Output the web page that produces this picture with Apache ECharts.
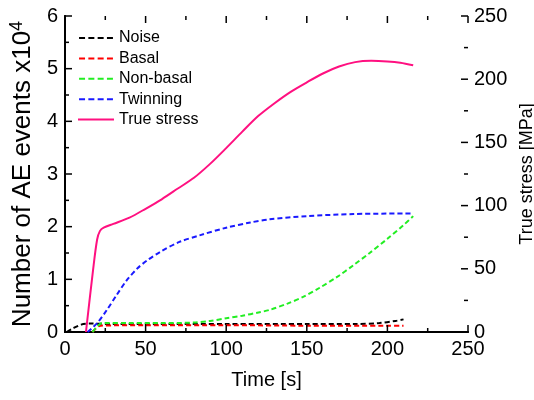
<!DOCTYPE html>
<html><head><meta charset="utf-8">
<script src="https://cdn.jsdelivr.net/npm/echarts@6/dist/echarts.min.js"></script>
<style>html,body{margin:0;padding:0;background:#fff}#c{width:534px;height:400px}</style>
</head><body><div id="c"></div>
<script>
// Data
const noiseT  = [1, 5, 10, 15, 30, 60, 100, 150, 180, 195, 205, 210];
const noiseV  = [0, 0.07, 0.14, 0.16, 0.15, 0.15, 0.15, 0.15, 0.15, 0.17, 0.21, 0.24];
const basalT  = [17, 22, 50, 100, 150, 200, 210];
const basalV  = [0, 0.12, 0.13, 0.13, 0.12, 0.12, 0.12];
const nonbT   = [17, 20, 23, 40, 60, 80, 90, 100, 110, 120, 127, 138, 148, 158, 169, 179, 189, 200, 210, 216];
const nonbV   = [0, 0.1, 0.17, 0.17, 0.17, 0.18, 0.21, 0.26, 0.31, 0.37, 0.42, 0.54, 0.67, 0.84, 1.05, 1.27, 1.5, 1.77, 2.03, 2.2];
const twinT   = [14, 20, 26, 32, 38, 45, 51, 59, 71, 84, 100, 115, 127, 150, 179, 216];
const twinV   = [0, 0.17, 0.42, 0.7, 0.97, 1.21, 1.36, 1.52, 1.71, 1.84, 1.98, 2.08, 2.14, 2.2, 2.24, 2.25];
const stressT = [13, 17.4, 19.9, 21.7, 24, 30, 40, 50, 60, 70, 80, 90, 100, 110, 120, 130, 140, 150, 160, 170, 180, 190, 200, 208, 216];
const stressV = [0, 49, 73, 80, 82.5, 85.5, 90.5, 97.5, 105, 113.5, 122, 133, 145.5, 158.5, 171, 181, 190, 197.5, 204.5, 210, 213.5, 214.5, 214, 213, 211];
const legendNames = ['Noise', 'Basal', 'Non-basal', 'Twinning', 'True stress'];
// tick positions (major + minor) on each scale
const xTicks      = [0, 25, 50, 75, 100, 125, 150, 175, 200, 225, 250];
const yLeftTicks  = [0, 0.5, 1, 1.5, 2, 2.5, 3, 3.5, 4, 4.5, 5, 5.5, 6];
const yRightTicks = [0, 25, 50, 75, 100, 125, 150, 175, 200, 225, 250];

const pair = (t, v) => t.map((x, i) => [x, v[i]]);
const FONT = 'Liberation Sans';
const dash = [5, 3];
const dashIcon = 'path://M0,0h6v2h-6zM9.3,0h6v2h-6zM18.6,0h6v2h-6zM27.9,0h6v2h-6z';
const solidIcon = 'path://M0,0h36v2h-36z';

const axisLine = () => ({show: true, lineStyle: {color: '#000', width: 2}});
const label = (m) => ({show: true, margin: m, color: '#000', fontFamily: FONT, fontSize: 20});
const noTicks = {axisTick: {show: false}, minorTick: {show: false}, splitLine: {show: false}, minorSplitLine: {show: false}};

// inward tick marks, placed through the axes' own scales
function tickSeries(points, isMajor, dir, yAxisIndex) {
  return {
    type: 'custom', silent: true, clip: false, z: 5, yAxisIndex: yAxisIndex,
    data: points, encode: {x: 0, y: 1},
    renderItem: function (params, api) {
      const p = api.coord([api.value(0), api.value(1)]);
      const L = isMajor(params.dataIndex) ? 7 : 4;
      return {type: 'line',
              shape: {x1: p[0], y1: p[1], x2: p[0] + dir[0] * L, y2: p[1] + dir[1] * L},
              style: {stroke: '#000', lineWidth: 1.5}};
    }
  };
}
const evenIdx = i => i % 2 === 0;

const chart = echarts.init(document.getElementById('c'), null, {renderer: 'canvas'});
const colors = ['#000000', '#ff0000', '#22ee22', '#1a1aff', '#ff1080'];

const lineSeries = [
  {name: 'Noise', data: pair(noiseT, noiseV), dashed: true},
  {name: 'Basal', data: pair(basalT, basalV), dashed: true},
  {name: 'Non-basal', data: pair(nonbT, nonbV), dashed: true},
  {name: 'Twinning', data: pair(twinT, twinV), dashed: true},
  {name: 'True stress', data: pair(stressT, stressV), dashed: false, yAxisIndex: 1}
].map((s, i) => ({
  name: s.name, type: 'line', data: s.data, yAxisIndex: s.yAxisIndex || 0,
  showSymbol: false, symbol: 'none', smooth: 0.3,
  lineStyle: {color: colors[i], width: 2, type: s.dashed ? dash : 'solid'},
  itemStyle: {color: colors[i]}
}));

chart.setOption({
  animation: false,
  backgroundColor: '#fff',
  grid: {left: 65, right: 66, top: 16, bottom: 68, containLabel: false, outerBoundsMode: 'none'},
  legend: {
    orient: 'vertical', left: 73, top: 25, itemWidth: 36, itemHeight: 2, itemGap: 4.4,
    textStyle: {color: '#000', fontFamily: FONT, fontSize: 16, lineHeight: 16},
    data: legendNames.map((n, i) => ({name: n, icon: i === 4 ? solidIcon : dashIcon}))
  },
  xAxis: [Object.assign({
    type: 'value', min: 0, max: 250, interval: 50, position: 'bottom',
    name: 'Time [s]', nameLocation: 'middle', nameGap: 38,
    nameTextStyle: {color: '#000', fontFamily: FONT, fontSize: 20},
    axisLine: axisLine(), axisLabel: label(7)
  }, noTicks), Object.assign({
    type: 'value', min: 0, max: 250, interval: 50, position: 'top',
    axisLine: axisLine(), axisLabel: {show: false}
  }, noTicks)],
  yAxis: [Object.assign({
    type: 'value', min: 0, max: 6, interval: 1, position: 'left',
    name: '{a|Number of AE events x10}{s|4}', nameLocation: 'middle', nameGap: 23,
    nameTextStyle: {color: '#000', fontFamily: FONT, fontSize: 26,
      rich: {a: {fontFamily: FONT, fontSize: 26, color: '#000'},
             s: {fontFamily: FONT, fontSize: 18, color: '#000', verticalAlign: 'top', padding: [0, 0, 12, 0]}}},
    axisLine: axisLine(), axisLabel: label(7)
  }, noTicks), Object.assign({
    type: 'value', min: 0, max: 250, interval: 50, position: 'right',
    name: 'True stress [MPa]', nameLocation: 'middle', nameGap: 46, nameRotate: 90,
    nameTextStyle: {color: '#000', fontFamily: FONT, fontSize: 18},
    axisLine: axisLine(), axisLabel: label(6)
  }, noTicks)],
  series: lineSeries.concat([
    tickSeries(xTicks.map(v => [v, 0]), evenIdx, [0, -1], 0),
    tickSeries(xTicks.map(v => [v, 6]), evenIdx, [0, 1], 0),
    tickSeries(yLeftTicks.map(v => [0, v]), evenIdx, [1, 0], 0),
    tickSeries(yRightTicks.map(v => [250, v]), evenIdx, [-1, 0], 1)
  ])
});
</script></body></html>
